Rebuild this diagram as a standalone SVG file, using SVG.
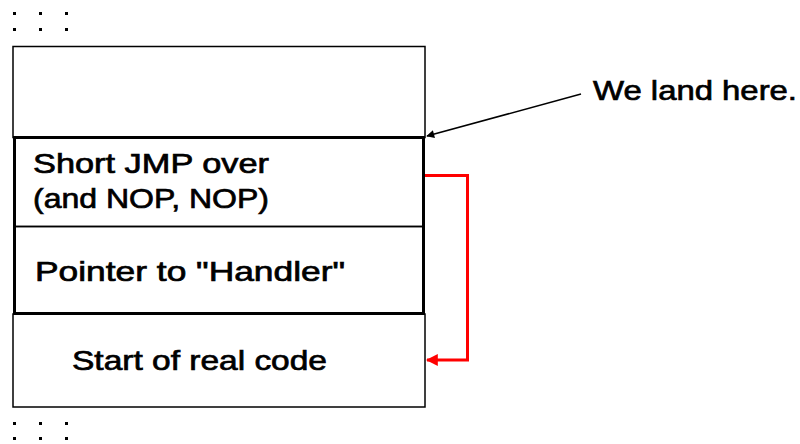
<svg xmlns="http://www.w3.org/2000/svg" width="800" height="444" viewBox="0 0 800 444">
  <style>
    .lbl { font-family: "Liberation Sans", Arial, sans-serif; font-size: 28px; fill: #000; stroke: #000; stroke-width: 0.7; }
    .thin { fill: none; stroke: #000; stroke-width: 1.5; }
    .thick { fill: none; stroke: #000; stroke-width: 3; }
    .dot { fill: #000; }
  </style>
  <defs>
    <marker id="arrowBlack" viewBox="0 0 10 10" refX="9" refY="5" markerWidth="10" markerHeight="8" markerUnits="userSpaceOnUse" orient="auto">
      <path d="M0,0 L10,5 L0,10 z" fill="#000"/>
    </marker>
    <marker id="arrowRed" viewBox="0 0 10 10" refX="9" refY="5" markerWidth="12" markerHeight="12" markerUnits="userSpaceOnUse" orient="auto">
      <path d="M0,0 L10,5 L0,10 z" fill="#ff0000"/>
    </marker>
  </defs>

  <!-- continuation dots above and below the memory block -->
  <g id="dots">
    <rect class="dot" x="13" y="12" width="3" height="3"/>
    <rect class="dot" x="39" y="12" width="3" height="3"/>
    <rect class="dot" x="65" y="12" width="3" height="3"/>
    <rect class="dot" x="13" y="28" width="3" height="3"/>
    <rect class="dot" x="39" y="28" width="3" height="3"/>
    <rect class="dot" x="65" y="28" width="3" height="3"/>
    <rect class="dot" x="13" y="422" width="3" height="3"/>
    <rect class="dot" x="39" y="422" width="3" height="3"/>
    <rect class="dot" x="65" y="422" width="3" height="3"/>
    <rect class="dot" x="13" y="437" width="3" height="3"/>
    <rect class="dot" x="39" y="437" width="3" height="3"/>
    <rect class="dot" x="65" y="437" width="3" height="3"/>
  </g>

  <!-- memory cells -->
  <g id="cell-top">
    <rect class="thin" x="13" y="46.5" width="412" height="91"/>
  </g>
  <g id="cell-jmp">
    <rect class="thin" x="14.5" y="137.5" width="409" height="89"/>
    <text class="lbl" x="33" y="173" textLength="236" lengthAdjust="spacingAndGlyphs">Short JMP over</text>
    <text class="lbl" x="33" y="208" textLength="236" lengthAdjust="spacingAndGlyphs">(and NOP, NOP)</text>
  </g>
  <g id="cell-pointer">
    <rect class="thin" x="14.5" y="226.5" width="409" height="87"/>
    <text class="lbl" x="35" y="281" textLength="310" lengthAdjust="spacingAndGlyphs">Pointer to "Handler"</text>
  </g>
  <g id="cell-code">
    <rect class="thin" x="13" y="314" width="412" height="93"/>
    <text class="lbl" x="72" y="370" textLength="255" lengthAdjust="spacingAndGlyphs">Start of real code</text>
  </g>
  <!-- heavy outline around the exception record -->
  <rect class="thick" x="14.5" y="137.5" width="409" height="176"/>

  <g id="note">
    <text class="lbl" x="593" y="100" textLength="204" lengthAdjust="spacingAndGlyphs">We land here.</text>
  </g>

  <g id="connectors">
    <line x1="581" y1="94" x2="427" y2="136" stroke="#000" stroke-width="1.5" marker-end="url(#arrowBlack)"/>
    <path d="M425,175.5 H467.5 V360 H427" fill="none" stroke="#ff0000" stroke-width="3" marker-end="url(#arrowRed)"/>
  </g>
</svg>
